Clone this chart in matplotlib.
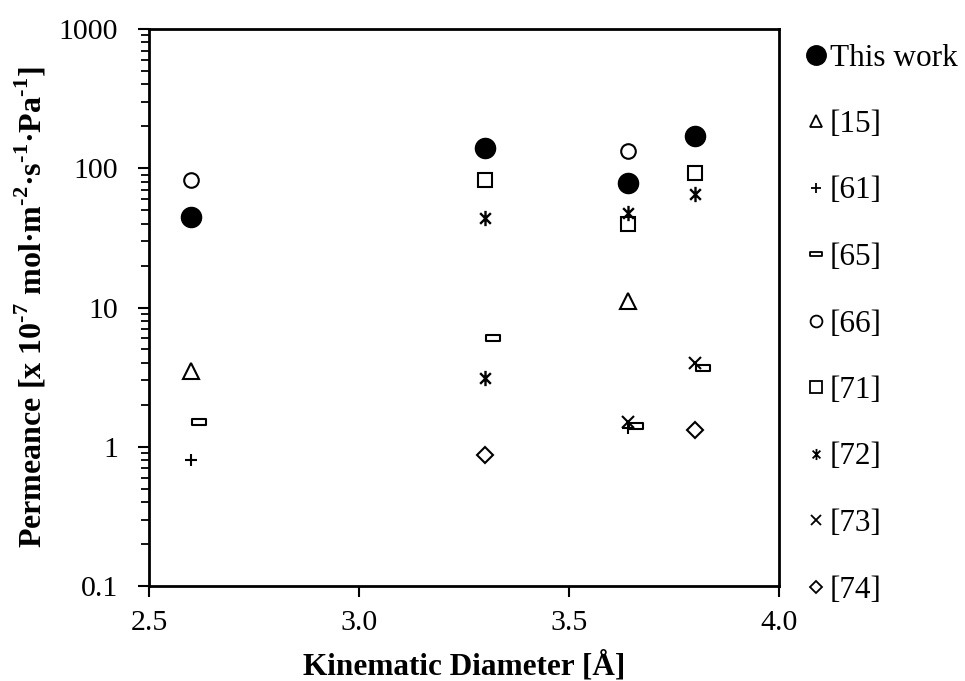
import matplotlib
matplotlib.use("Agg")
import matplotlib.pyplot as plt
from matplotlib.path import Path
from matplotlib.lines import Line2D
from matplotlib.ticker import LogLocator, FixedLocator, NullFormatter

plt.rcParams["font.family"] = ["Liberation Serif", "DejaVu Serif"]
plt.rcParams["mathtext.fontset"] = "custom"
plt.rcParams["mathtext.rm"] = "Liberation Serif"
plt.rcParams["mathtext.bf"] = "Liberation Serif:bold"

# Permeance data (x 10^-7 mol m^-2 s^-1 Pa^-1) vs kinetic diameter (Å)
this_work_x = [2.6, 3.3, 3.64, 3.8]
this_work_y = [45, 139, 78, 171]

ref15_x = [2.6, 3.64]
ref15_y = [3.5, 11.2]

ref61_x = [2.6, 3.64]
ref61_y = [0.8, 1.36]

ref65_x = [2.62, 3.32, 3.66, 3.82]
ref65_y = [1.5, 6.0, 1.42, 3.7]

ref66_x = [2.6, 3.64]
ref66_y = [82, 132]

ref71_x = [3.3, 3.64, 3.8]
ref71_y = [82, 40, 92]

ref72_x = [3.3, 3.3, 3.64, 3.8]
ref72_y = [44, 3.1, 48, 65]

ref73_x = [3.64, 3.8]
ref73_y = [1.51, 4.0]

ref74_x = [3.3, 3.8]
ref74_y = [0.87, 1.32]

labels = ["This work", "[15]", "[61]", "[65]", "[66]", "[71]", "[72]", "[73]", "[74]"]

# custom marker shapes
rect_marker = Path([(-1, -0.42), (1, -0.42), (1, 0.42), (-1, 0.42), (-1, -0.42)],
                   [Path.MOVETO, Path.LINETO, Path.LINETO, Path.LINETO, Path.CLOSEPOLY])
d = 0.7
star_marker = Path([(-d, -d), (d, d), (-d, d), (d, -d), (0, -1), (0, 1)],
                   [Path.MOVETO, Path.LINETO, Path.MOVETO, Path.LINETO, Path.MOVETO, Path.LINETO])

series = [
    (this_work_x, this_work_y, dict(marker="o", ms=14.5, mfc="black", mec="black", mew=1.0), 14),
    (ref15_x, ref15_y, dict(marker="^", ms=11, mfc="none", mec="black", mew=1.5), 8.5),
    (ref61_x, ref61_y, dict(marker="+", ms=8.5, mec="black", mew=1.5), 6.5),
    (ref65_x, ref65_y, dict(marker=rect_marker, ms=10.5, mfc="none", mec="black", mew=1.5), 8),
    (ref66_x, ref66_y, dict(marker="o", ms=10.5, mfc="none", mec="black", mew=1.5), 8.5),
    (ref71_x, ref71_y, dict(marker="s", ms=10.5, mfc="none", mec="black", mew=1.5), 8.5),
    (ref72_x, ref72_y, dict(marker=star_marker, ms=11, mfc="none", mec="black", mew=1.7), 8),
    (ref73_x, ref73_y, dict(marker="x", ms=9, mec="black", mew=1.5), 6.5),
    (ref74_x, ref74_y, dict(marker="D", ms=8, mfc="none", mec="black", mew=1.5), 6.5),
]

fig = plt.figure(figsize=(9.65, 6.81), dpi=100)
ax = fig.add_axes([149 / 965, 95 / 681, 630 / 965, 557 / 681])

handles = []
for (xs, ys, style, leg_ms), lab in zip(series, labels):
    ax.plot(xs, ys, linestyle="none", **style)
    hstyle = dict(style)
    hstyle["ms"] = leg_ms
    hstyle["mew"] = 1.3 if style["mew"] > 1 else style["mew"]
    handles.append(Line2D([], [], linestyle="none", **hstyle))

ax.set_yscale("log")
ax.set_xlim(2.5, 4.0)
ax.set_ylim(0.1, 1000)
ax.xaxis.set_major_locator(FixedLocator([2.5, 3.0, 3.5, 4.0]))
ax.set_xticklabels(["2.5", "3.0", "3.5", "4.0"])
ax.yaxis.set_major_locator(FixedLocator([0.1, 1, 10, 100, 1000]))
ax.set_yticklabels(["0.1", "1", "10", "100", "1000"])
ax.yaxis.set_minor_locator(LogLocator(base=10, subs=range(2, 10)))
ax.yaxis.set_minor_formatter(NullFormatter())

for sp in ax.spines.values():
    sp.set_linewidth(2.0)
    sp.set_color("black")

ax.tick_params(axis="both", which="major", direction="out", length=8, width=1.5,
               labelsize=21.5, colors="black")
ax.tick_params(axis="y", which="minor", direction="out", length=6, width=1.3)
ax.tick_params(axis="x", which="major", pad=9)
ax.tick_params(axis="y", which="major", pad=14.5)

ax.set_xlabel("Kinematic Diameter [Å]", fontsize=22.5, fontweight="bold", labelpad=11)
ax.set_ylabel("Permeance [x 10$^{\\mathbf{\u20107}}$ mol·m$^{\\mathbf{\u20102}}$·s$^{\\mathbf{\u20101}}$·Pa$^{\\mathbf{\u20101}}$]",
              fontsize=23, fontweight="bold", labelpad=7)

fig.legend(handles=handles, labels=labels, loc="upper left",
           bbox_to_anchor=(791 / 965, 1 - 31 / 681), frameon=False,
           fontsize=22.5, handlelength=0.8, handletextpad=0.05,
           labelspacing=1.2, borderaxespad=0)

fig.savefig("out.png", dpi=100)
